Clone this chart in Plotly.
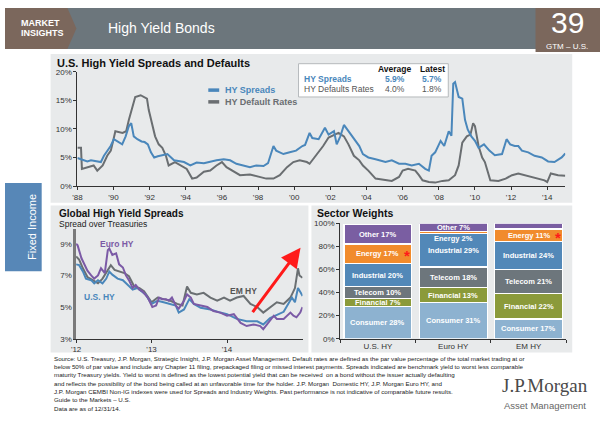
import plotly.graph_objects as go

# ---------------- data ----------------
spread_years = [1988.0, 1988.3, 1988.55, 1988.75, 1988.9, 1989.1, 1989.3, 1989.47, 1989.65, 1989.84,
                1990.02, 1990.2, 1990.48, 1990.67, 1990.85, 1990.98, 1991.12, 1991.32, 1991.55, 1991.72,
                1991.9, 1992.07, 1992.25, 1992.45, 1992.62, 1992.98, 1993.35, 1993.9, 1994.25, 1994.6,
                1995.0, 1995.35, 1995.7, 1996.1, 1996.45, 1996.8, 1997.2, 1997.55, 1997.9, 1998.3,
                1998.55, 1998.7, 1998.85, 1999.0, 1999.4, 1999.75, 2000.1, 2000.45, 2000.6, 2000.85,
                2001.0, 2001.35, 2001.7, 2001.9, 2002.2, 2002.35, 2002.55, 2002.75, 2003.0, 2003.3,
                2003.6, 2003.8, 2004.1, 2004.5, 2005.05, 2005.4, 2005.8, 2006.15, 2006.5, 2006.9,
                2007.25, 2007.45, 2007.6, 2007.8, 2008.1, 2008.3, 2008.55, 2008.7, 2008.8, 2008.9,
                2009.1, 2009.3, 2009.45, 2009.6, 2009.8, 2010.0, 2010.2, 2010.5, 2010.8, 2011.1,
                2011.5, 2011.75, 2011.95, 2012.2, 2012.4, 2012.6, 2012.95, 2013.3, 2013.7, 2014.05,
                2014.4, 2014.8, 2015.0]
spread_vals = [4.9, 4.6, 4.3, 4.5, 4.4, 4.4, 4.2, 5.3, 6.2, 7.0,
               8.2, 7.9, 7.3, 8.7, 10.5, 11.0, 8.7, 8.2, 7.8, 7.7,
               7.3, 5.9, 5.0, 5.2, 5.3, 5.6, 4.5, 4.2, 3.6, 4.1,
               4.0, 4.3, 4.5, 4.7, 4.5, 3.9, 3.6, 3.3, 3.6, 3.5,
               4.0, 5.6, 7.0, 6.2, 5.6, 5.9, 6.2, 7.0, 7.2, 9.3,
               8.4, 8.2, 10.2, 9.0, 9.6, 7.3, 8.7, 10.7, 9.6, 8.2,
               7.0, 5.6, 5.0, 4.7, 4.2, 4.5, 3.9, 3.9, 3.6, 3.9,
               3.0, 2.7, 5.3, 5.9, 7.9, 7.0, 9.6, 8.8, 17.9, 18.2,
               15.6, 15.3, 11.6, 9.9, 8.7, 7.9, 6.7, 7.3, 6.2, 5.4,
               5.6, 8.2, 7.3, 7.0, 7.0, 6.2, 5.9, 5.3, 5.0, 4.3,
               4.2, 5.0, 5.7]

default_years = [1988.0, 1988.2, 1988.25, 1988.55, 1988.9, 1989.1, 1989.4, 1989.65, 1989.85, 1990.0,
                 1990.1, 1990.5, 1990.7, 1990.85, 1991.05, 1991.2, 1991.5, 1991.85, 1991.95, 1992.15,
                 1992.3, 1992.5, 1992.7, 1992.9, 1993.05, 1993.4, 1993.7, 1994.05, 1994.35, 1994.6,
                 1995.0, 1995.35, 1995.7, 1996.0, 1996.25, 1996.6, 1997.0, 1997.55, 1998.1, 1998.45,
                 1998.85, 1999.2, 1999.6, 1999.95, 2000.3, 2000.7, 2000.85, 2001.25, 2001.6, 2001.9,
                 2002.2, 2002.45, 2002.75, 2003.0, 2003.3, 2003.6, 2003.8, 2004.1, 2004.5, 2005.05,
                 2005.4, 2005.8, 2006.0, 2006.3, 2006.7, 2006.9, 2007.1, 2007.45, 2007.8, 2008.2,
                 2008.55, 2008.9, 2009.1, 2009.3, 2009.55, 2009.75, 2009.9, 2010.0, 2010.2, 2010.4,
                 2010.55, 2010.85, 2011.3, 2011.7, 2012.05, 2012.4, 2012.8, 2013.1, 2013.5, 2013.85,
                 2014.0, 2014.2, 2014.6, 2015.0]
default_vals = [6.7, 6.7, 3.0, 3.3, 3.6, 2.7, 3.6, 5.3, 6.2, 8.2,
                9.6, 9.3, 9.6, 11.6, 13.9, 15.6, 15.9, 15.3, 13.3, 10.5,
                8.7, 7.3, 6.7, 5.3, 3.6, 4.2, 3.6, 3.0, 1.3, 1.5,
                2.5, 2.7, 3.6, 4.2, 3.3, 2.7, 1.9, 2.0, 1.6, 1.3,
                1.3, 1.9, 3.3, 4.2, 4.5, 4.2, 3.9, 5.6, 7.0, 8.5,
                9.0, 9.3, 8.7, 7.3, 5.3, 4.5, 3.6, 2.7, 1.3, 1.0,
                0.9, 1.6, 2.7, 3.0, 2.7, 1.9, 1.0, 0.7, 0.6, 0.9,
                1.0, 1.9, 3.6, 7.6, 8.7, 9.0, 11.0, 10.5, 7.0, 5.0,
                4.2, 1.0, 0.9, 1.3, 1.9, 2.2, 1.9, 1.6, 1.3, 1.0,
                0.7, 2.2, 1.9, 1.8]

top_tick_years = list(range(1988, 2015, 2))
top_tick_labels = ["'%02d" % (y % 100) for y in top_tick_years]
top_y_ticks = [0, 5, 10, 15, 20]

euro_years = [2012.0, 2012.02, 2012.07, 2012.11, 2012.15, 2012.2, 2012.24, 2012.29, 2012.33, 2012.38,
              2012.42, 2012.44, 2012.48, 2012.53, 2012.57, 2012.62, 2012.66, 2012.7, 2012.75, 2012.79,
              2012.84, 2012.88, 2012.95, 2013.01, 2013.06, 2013.1, 2013.14, 2013.19, 2013.23, 2013.27,
              2013.32, 2013.36, 2013.43, 2013.47, 2013.52, 2013.56, 2013.65, 2013.74, 2013.82, 2013.91,
              2014.0, 2014.09, 2014.18, 2014.26, 2014.35, 2014.44, 2014.48, 2014.53, 2014.62, 2014.66,
              2014.75, 2014.84, 2014.88, 2014.92, 2014.97, 2015.0]
euro_vals = [9.0, 8.9, 8.1, 7.7, 7.3, 7.0, 6.8, 7.0, 7.45, 7.15,
             8.6, 8.7, 8.3, 8.4, 7.7, 7.5, 7.0, 6.7, 6.2, 6.4,
             6.1, 6.0, 5.6, 5.0, 5.1, 5.6, 5.5, 5.5, 5.4, 5.6,
             5.1, 4.9, 5.4, 5.8, 5.6, 5.2, 5.1, 5.0, 4.75, 4.65,
             4.45, 4.55, 4.0, 3.8, 3.9, 3.8, 3.6, 3.9, 4.45, 4.25,
             4.25, 4.65, 4.45, 4.35, 4.65, 5.0]

us_years = [2012.0, 2012.04, 2012.09, 2012.13, 2012.2, 2012.24, 2012.29, 2012.35, 2012.4, 2012.44,
            2012.48, 2012.55, 2012.62, 2012.68, 2012.75, 2012.81, 2012.86, 2012.92, 2013.0, 2013.08,
            2013.16, 2013.25, 2013.32, 2013.36, 2013.43, 2013.5, 2013.56, 2013.65, 2013.78, 2013.91,
            2014.0, 2014.13, 2014.26, 2014.4, 2014.48, 2014.57, 2014.66, 2014.75, 2014.81, 2014.86,
            2014.9, 2014.94, 2014.99, 2015.0]
us_vals = [7.7, 7.65, 7.25, 6.8, 6.7, 6.5, 6.7, 6.5, 6.8, 7.25,
           7.05, 6.8, 6.7, 6.4, 6.1, 6.2, 6.0, 5.8, 5.2, 5.4,
           5.3, 5.2, 5.1, 4.65, 4.85, 5.5, 5.2, 4.95, 4.85, 4.65,
           4.55, 4.25, 4.1, 4.1, 3.9, 4.3, 4.5, 4.7, 5.2, 5.6,
           5.3, 6.2, 5.8, 5.7]

em_years = [2012.0, 2012.04, 2012.09, 2012.15, 2012.22, 2012.29, 2012.35, 2012.42, 2012.46, 2012.51,
            2012.57, 2012.64, 2012.7, 2012.77, 2012.84, 2012.9, 2013.0, 2013.08, 2013.16, 2013.25,
            2013.34, 2013.41, 2013.47, 2013.52, 2013.6, 2013.69, 2013.78, 2013.87, 2013.96, 2014.04,
            2014.13, 2014.22, 2014.31, 2014.4, 2014.48, 2014.57, 2014.66, 2014.75, 2014.84, 2014.9,
            2014.94, 2014.96, 2014.99, 2015.0]
em_vals = [8.2, 8.0, 7.45, 6.9, 6.7, 6.5, 6.8, 7.35, 7.65, 7.35,
           7.25, 7.15, 6.95, 6.3, 6.2, 6.0, 5.3, 5.6, 5.5, 5.4,
           5.2, 5.1, 6.3, 5.9, 5.8, 5.9, 5.6, 5.4, 5.6, 5.4,
           5.6, 5.7, 5.2, 5.0, 4.65, 5.0, 5.3, 5.2, 5.6, 6.2,
           7.45, 7.0, 6.85, 6.85]

global_tick_years = [2012, 2013, 2014]
global_tick_labels = ["'12", "'13", "'14"]
global_y_ticks = [3, 5, 7, 9]

regions = ["U.S. HY", "Euro HY", "EM HY"]
sectors = ["Consumer", "Financial", "Telecom", "Industrial", "Energy", "Other"]
consumer = [28, 31, 17]
financial = [7, 13, 22]
telecom = [10, 18, 21]
industrial = [20, 29, 24]
energy = [17, 2, 11]
other = [17, 7, 5]
sector_values = [consumer, financial, telecom, industrial, energy, other]
sector_y_ticks = [0, 20, 40, 60, 80, 100]

table_rows = ["HY Spreads", "HY Defaults Rates"]
table_avg = ["5.9%", "4.0%"]
table_latest = ["5.7%", "1.8%"]

footnote_lines = [
    "Source: U.S. Treasury, J.P. Morgan, Strategic Insight, J.P. Morgan Asset Management. Default rates are defined as the par value percentage of the total market trading at or",
    "below 50% of par value and include any Chapter 11 filing, prepackaged filing or missed interest payments. Spreads indicated are benchmark yield to worst less comparable",
    "maturity Treasury yields. Yield to worst is defined as the lowest potential yield that can be received  on a bond without the issuer actually defaulting",
    "and reflects the possibility of the bond being called at an unfavorable time for the holder. J.P. Morgan  Domestic HY, J.P. Morgan Euro HY, and",
    "J.P. Morgan CEMBI Non-IG indexes were used for Spreads and Industry Weights. Past performance is not indicative of comparable future results.",
    "Guide to the Markets \u2013 U.S.",
    "Data are as of 12/31/14.",
]

# ---------------- styling ----------------
W, H = 600, 421
def px(x): return x / W
def py(y): return 1 - y / H

FONT = "Liberation Sans, Arial, sans-serif"
C_BLUE = "#4a87bb"
C_GRAY = "#6a6e71"
C_PURPLE = "#7b5aa6"
C_EM = "#6a6f72"
PANEL = "#e8eaeb"
sector_colors = ["#8db2d0", "#8b9a3a", "#6d767c", "#5288b8", "#f18b2c", "#7a5ea2"]

fig = go.Figure()

fig.add_trace(go.Scatter(x=default_years, y=default_vals, mode="lines",
                         line=dict(color=C_GRAY, width=2), xaxis="x", yaxis="y",
                         showlegend=False, hoverinfo="skip"))
fig.add_trace(go.Scatter(x=spread_years, y=spread_vals, mode="lines",
                         line=dict(color=C_BLUE, width=2), xaxis="x", yaxis="y",
                         showlegend=False, hoverinfo="skip"))
fig.add_trace(go.Scatter(x=em_years, y=em_vals, mode="lines", line=dict(color=C_EM, width=2),
                         xaxis="x2", yaxis="y2", showlegend=False, hoverinfo="skip"))
fig.add_trace(go.Scatter(x=us_years, y=us_vals, mode="lines", line=dict(color=C_BLUE, width=2),
                         xaxis="x2", yaxis="y2", showlegend=False, hoverinfo="skip"))
fig.add_trace(go.Scatter(x=euro_years, y=euro_vals, mode="lines", line=dict(color=C_PURPLE, width=2),
                         xaxis="x2", yaxis="y2", showlegend=False, hoverinfo="skip"))
for name, vals, col in zip(sectors, sector_values, sector_colors):
    fig.add_trace(go.Bar(x=regions, y=vals, name=name, marker=dict(color=col, line=dict(color="white", width=1.2)),
                         xaxis="x3", yaxis="y3", showlegend=False, hoverinfo="skip"))

annotations = []
shapes = []

def text(x, y, s, size=8, color="#222", bold=False, xanchor="left", yanchor="middle", family=FONT, **kw):
    if bold:
        s = "<b>" + s + "</b>"
    annotations.append(dict(x=px(x), y=py(y), xref="paper", yref="paper", text=s, showarrow=False,
                            xanchor=xanchor, yanchor=yanchor, font=dict(size=size, color=color, family=family), **kw))

def rect(x0, y0, x1, y1, color, line=None):
    shapes.append(dict(type="rect", xref="paper", yref="paper", x0=px(x0), x1=px(x1), y0=py(y1), y1=py(y0),
                       fillcolor=color, line=dict(width=0) if line is None else line, layer="below"))

# header
rect(0, 4, 600, 46, "#6c767c")
shapes.append(dict(type="path", xref="paper", yref="paper", layer="below",
                   path="M %f,%f L %f,%f L %f,%f L %f,%f L %f,%f Z" % (
                       px(0), py(4), px(63), py(4), px(72), py(25), px(63), py(46), px(0), py(46)),
                   fillcolor="#7b675c", line=dict(width=0)))
rect(535, 4, 600, 49, "#7b675c")
text(14, 19, "MARKET", size=9, color="white", bold=True)
text(14, 30, "INSIGHTS", size=9, color="white", bold=True)
text(102, 25, "High Yield Bonds", size=14, color="white")
text(567, 19, "39", size=30, color="white", xanchor="center")
text(567, 43.5, "GTM \u2013 U.S.", size=8, color="white", xanchor="center")

# panels
rect(46, 51, 572, 203, PANEL)
rect(46, 206, 306, 356, PANEL)
rect(309, 206, 572, 356, PANEL)
rect(0, 183, 37, 273, "#5787b7")
annotations.append(dict(x=px(19), y=py(228), xref="paper", yref="paper", text="Fixed Income", showarrow=False,
                        textangle=-90, font=dict(size=11, color="white", family=FONT)))

# titles
text(50, 60, "U.S. High Yield Spreads and Defaults", size=11, color="#111", bold=True)
text(52, 214, "Global High Yield Spreads", size=10, color="#111", bold=True)
text(52, 225, "Spread over Treasuries", size=8.5, color="#222")
text(313, 214, "Sector Weights", size=10.5, color="#111", bold=True)

# top legend
shapes.append(dict(type="line", xref="paper", yref="paper", x0=px(205), x1=px(216), y0=py(88), y1=py(88),
                   line=dict(color=C_BLUE, width=3.5)))
shapes.append(dict(type="line", xref="paper", yref="paper", x0=px(205), x1=px(216), y0=py(100), y1=py(100),
                   line=dict(color=C_GRAY, width=3.5)))
text(220, 88, "HY Spreads", size=9, color=C_BLUE, bold=True)
text(220, 100, "HY Default Rates", size=9, color=C_GRAY, bold=True)

# table
shapes.append(dict(type="rect", xref="paper", yref="paper", x0=px(296), x1=px(447), y0=py(95), y1=py(61),
                   fillcolor="white", line=dict(color="#b5b9bc", width=1)))
text(393, 66, "Average", size=8.5, color="#111", bold=True, xanchor="center")
text(431, 66, "Latest", size=8.5, color="#111", bold=True, xanchor="center")
row_colors = [C_BLUE, "#555"]
for i, (r, a, l) in enumerate(zip(table_rows, table_avg, table_latest)):
    yy = 77 + i * 10
    text(299, yy, r, size=8.5, color=row_colors[i], bold=(i == 0))
    text(393, yy, a, size=8.5, color=row_colors[i], bold=(i == 0), xanchor="center")
    text(431, yy, l, size=8.5, color=row_colors[i], bold=(i == 0), xanchor="center")

# global chart labels
text(113, 245, "Euro HY", size=8.5, color=C_PURPLE, bold=True, xanchor="center")
text(95, 299, "U.S. HY", size=8.5, color=C_BLUE, bold=True, xanchor="center")
text(240, 293, "EM HY", size=8.5, color="#555", bold=True, xanchor="center")
annotations.append(dict(x=px(298), y=py(249), xref="paper", yref="paper", ax=-49, ay=66, axref="pixel", ayref="pixel",
                        text="", showarrow=True, arrowhead=2, arrowsize=1.3, arrowwidth=3, arrowcolor="#ff1a1a"))

# sector labels
for ri, reg in enumerate(regions):
    cum = 0
    for si, name in enumerate(sectors):
        v = sector_values[si][ri]
        mid = cum + v / 2
        if v < 6 and name == "Energy":
            annotations.append(dict(x=reg, y=cum - 4, xref="x3", yref="y3", text="<b>%s %d%%</b>" % (name, v),
                                    showarrow=False, font=dict(size=7.5, color="white", family=FONT)))
        elif v < 6 and name == "Other":
            annotations.append(dict(x=reg, y=cum + v + 4, xref="x3", yref="y3", text="%s %d%%" % (name, v),
                                    showarrow=False, font=dict(size=7.5, color="#111", family=FONT)))
        else:
            annotations.append(dict(x=reg, y=mid, xref="x3", yref="y3", text="<b>%s %d%%</b>" % (name, v),
                                    showarrow=False, font=dict(size=7.5, color="white", family=FONT)))
            if name == "Energy":
                annotations.append(dict(x=reg, y=mid - 1.5, xref="x3", yref="y3", text="<b>*</b>", xshift=29,
                                        showarrow=False, font=dict(size=15, color="#ff1a1a", family=FONT)))
        cum += v

# footnote
for i, line in enumerate(footnote_lines):
    text(47, 362 + i * 8.5, line, size=6.2, color="#222")
text(545, 390, "J.P.Morgan", size=19, color="#4a4a4a", xanchor="center", family="Liberation Serif, serif")
text(545, 410.5, "Asset Management", size=9.5, color="#666", xanchor="center")

axis_common = dict(showgrid=False, zeroline=False, showline=True, linecolor="#333", linewidth=1,
                   ticks="outside", ticklen=3, tickcolor="#333", tickfont=dict(size=8, color="#333", family=FONT))

fig.update_layout(
    width=W, height=H, autosize=False, margin=dict(l=0, r=0, t=0, b=0),
    paper_bgcolor="white", plot_bgcolor="rgba(0,0,0,0)",
    barmode="stack", bargap=0.1,
    showlegend=False,
    xaxis=dict(domain=[px(73), px(565)], range=[1988, 2015], tickvals=top_tick_years, ticktext=top_tick_labels,
               anchor="y", **axis_common),
    yaxis=dict(domain=[py(186), py(69.3)], range=[0, 20], tickvals=top_y_ticks,
               ticktext=["%d%%" % v for v in top_y_ticks], anchor="x", **axis_common),
    xaxis2=dict(domain=[px(71.7), px(300)], range=[2012, 2015], tickvals=global_tick_years,
                ticktext=global_tick_labels, anchor="y2", **axis_common),
    yaxis2=dict(domain=[py(342), py(230)], range=[3, 9.93], tickvals=global_y_ticks,
                ticktext=["%d%%" % v for v in global_y_ticks], anchor="x2",
                **{**axis_common, "linecolor": "#7a7a7a", "linewidth": 2.5, "ticks": ""}),
    xaxis3=dict(domain=[px(338), px(566)], type="category", tickson="boundaries", anchor="y3", **axis_common),
    yaxis3=dict(domain=[py(342), py(224)], range=[0, 100], tickvals=sector_y_ticks,
                ticktext=["%d%%" % v for v in sector_y_ticks], anchor="x3", **axis_common),
    annotations=annotations, shapes=shapes,
)

fig.write_html("out.html", config={"displayModeBar": False},
               post_script="document.body.style.margin='0';document.body.style.overflow='hidden';")
